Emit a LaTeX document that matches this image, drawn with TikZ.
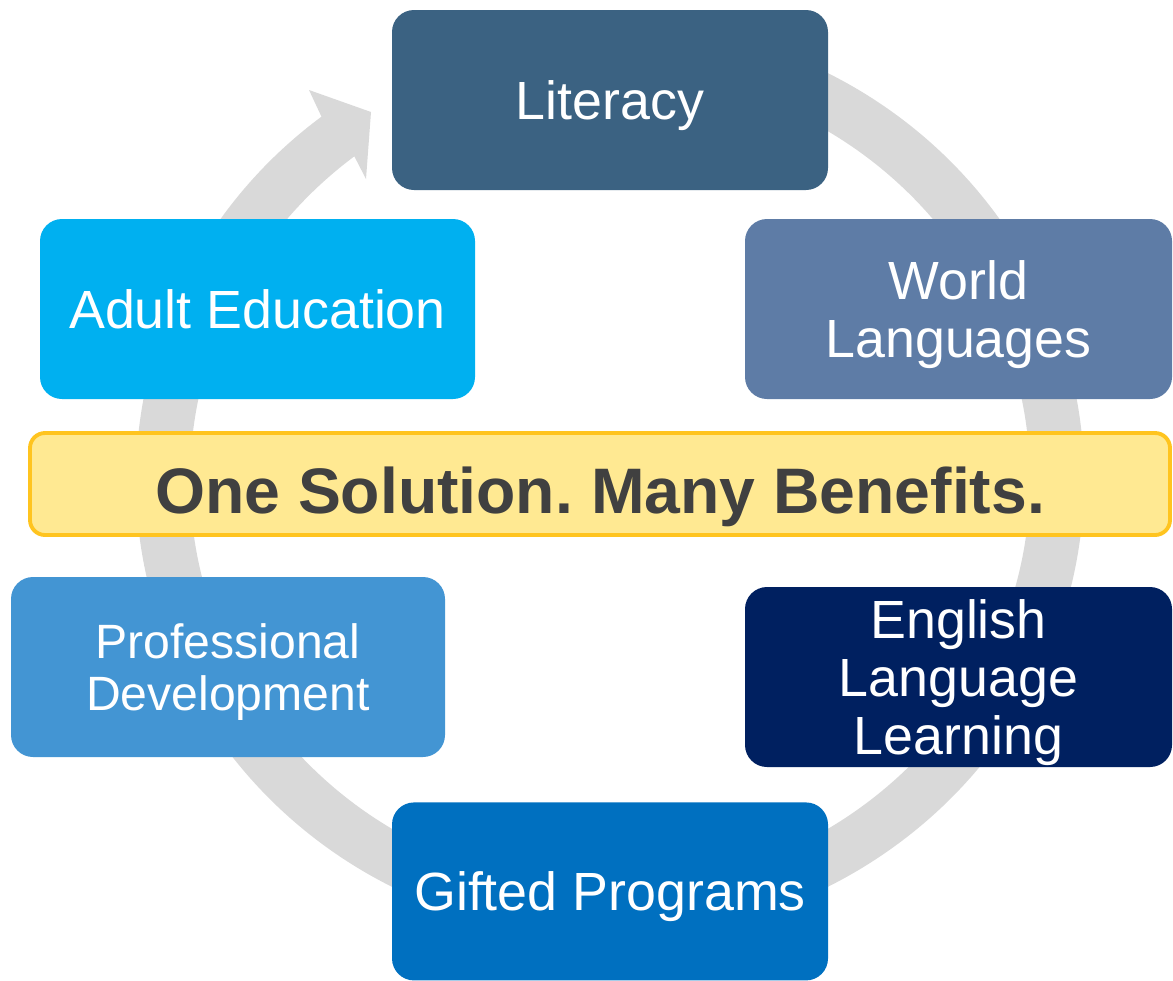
\documentclass[tikz,border=0pt]{standalone}
\usepackage{fontspec}
\setmainfont{Liberation Sans}
\usetikzlibrary{positioning}
\frenchspacing
\definecolor{ringgray}{HTML}{D9D9D9}
\definecolor{litblue}{HTML}{3B6282}
\definecolor{worldblue}{HTML}{5E7CA6}
\definecolor{adultblue}{HTML}{00B0F0}
\definecolor{profblue}{HTML}{4395D3}
\definecolor{ellblue}{HTML}{002060}
\definecolor{giftblue}{HTML}{0070C0}
\definecolor{mottofill}{HTML}{FFE992}
\definecolor{mottoline}{HTML}{FFC41F}
\definecolor{mottotext}{HTML}{404040}
\tikzset{
topic/.style={rounded corners=0.22cm, minimum width=4.35cm, minimum height=1.8cm, inner sep=0pt, text depth=0pt, text=white, align=center, font=\fontsize{15.3}{16.5}\selectfont}, % the coloured boxes round the ring
banner/.style={draw=mottoline, line width=1.1pt, fill=mottofill, rounded corners=0.15cm, minimum width=11.40cm, minimum height=1.02cm, inner sep=0pt, text height=0.58cm, text depth=0pt, text=mottotext, font=\bfseries\fontsize{18.3}{20}\selectfont}, % the yellow strip
}
\begin{document}
\begin{tikzpicture}
            \useasboundingbox (0,0) rectangle (11.73,9.80);
            % the grey ring arrow, clockwise towards Literacy
            \fill[ringgray, shift={(6.10,5.00)}]
                (80:4.74 and 4.58) arc[start angle=80, end angle=-232.5, x radius=4.74, y radius=4.58]
                -- (-3.01,3.90) -- (-2.39,3.68) -- (-2.44,3.01)
                -- (127.5:4.20 and 4.08) arc[start angle=-232.5, end angle=80, x radius=4.20, y radius=4.08]
                -- cycle;
            \node[topic, fill=litblue, minimum width=4.36cm] (lit) at (6.10,8.80) {Literacy};
            \node[topic, fill=worldblue, minimum width=4.27cm] (world) at (9.585,6.71) {World\\Languages};
            \node[topic, fill=adultblue] (adult) at (2.575,6.71) {Adult Education};
            \node[topic, fill=ellblue, minimum width=4.27cm] (ell) at (9.585,3.03) {English\\Language\\Learning};
            \node[topic, fill=profblue, minimum width=4.34cm, font=\fontsize{13.7}{14.8}\selectfont] (prof) at (2.28,3.13) {Professional\\Development};
            \node[topic, fill=giftblue, minimum width=4.36cm, minimum height=1.78cm, below=6.11cm of lit] (gifted) {Gifted Programs};
            \node[banner] (motto) at (6.00,4.96) {One Solution. Many Benefits.};
\end{tikzpicture}
\end{document}
